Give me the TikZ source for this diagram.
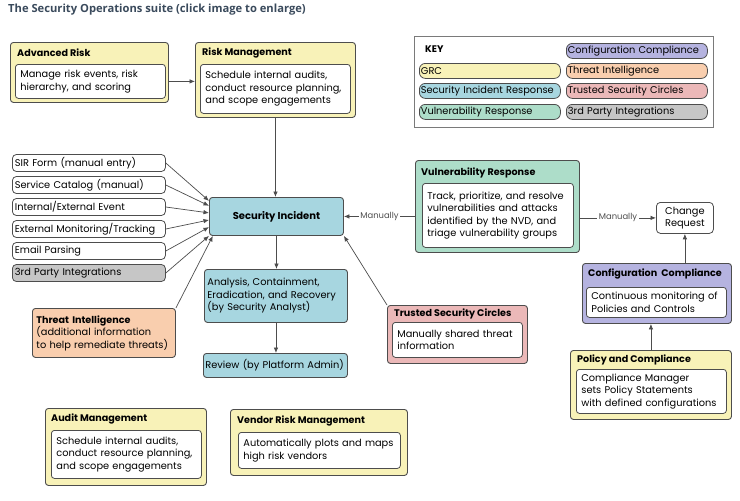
\documentclass[tikz,border=0pt]{standalone}
\usepackage{fontspec}
\setmainfont{Poppins}
\newfontfamily\headfont{Open Sans}
\usepackage{tikz}
\usetikzlibrary{positioning,arrows.meta}
\definecolor{edge}{HTML}{4D4D4D}
\definecolor{titleink}{HTML}{3A4A5C}
\definecolor{keyedge}{HTML}{7A7A7A}
\definecolor{grcbg}{HTML}{F8F2B8}
\definecolor{sirbg}{HTML}{A7D6E0}
\definecolor{vulbg}{HTML}{ADDDC9}
\definecolor{cfgbg}{HTML}{B5B3E0}
\definecolor{thrbg}{HTML}{F9CEAE}
\definecolor{tscbg}{HTML}{EBB8B8}
\definecolor{thirdbg}{HTML}{C6C6C6}
\tikzset{
  panel/.style={rectangle,rounded corners=3pt,draw=edge,line width=0.9pt,
    anchor=north west,inner sep=0pt},
  grc/.style={panel,fill=grcbg},
  sir/.style={panel,fill=sirbg},
  vul/.style={panel,fill=vulbg},
  cfg/.style={panel,fill=cfgbg},
  thr/.style={panel,fill=thrbg},
  tsc/.style={panel,fill=tscbg},
  hd/.style={anchor=west,inner sep=0pt,font=\bfseries\fontsize{9.6}{11}\selectfont},
  body/.style={rectangle,rounded corners=3pt,draw=edge,line width=0.8pt,fill=white,
    anchor=north west,align=left,inner xsep=5pt,inner ysep=0pt},
  src/.style={rectangle,rounded corners=4pt,draw=edge,line width=0.8pt,fill=white,
    anchor=west,minimum height=17pt,text width=148pt,inner xsep=2.5pt,inner ysep=0pt},
  keyitem/.style={rectangle,rounded corners=6pt,draw=edge,line width=0.8pt,
    anchor=north west,minimum height=15pt,text width=138pt,inner xsep=1.5pt,inner ysep=0pt},
  ar/.style={-{Latex[length=5.5pt,width=4.5pt]},draw=edge,line width=0.7pt},
  manual/.style={fill=white,text=edge,font=\fontsize{8.4}{9}\selectfont,inner sep=1.5pt},
}
\begin{document}
\begin{tikzpicture}[x=1pt,y=-1pt,font=\fontsize{9.8}{12.5}\selectfont]
  \useasboundingbox (0,0) rectangle (740,501);
  \fill[white] (0,0) rectangle (740,501);
  \node[anchor=west,inner sep=0pt,text=titleink,
    font=\headfont\bfseries\fontsize{11.2}{13}\selectfont] (title) at (8,10)
    {The Security Operations suite (click image to enlarge)};
  % key
  \node[panel,draw=keyedge,fill=white,rounded corners=0pt,
    minimum width=299pt,minimum height=91pt] (key) at (414,36) {};
  \node[hd] (keyhd) at (425,49) {KEY};
  \node[keyitem,fill=cfgbg] (kcfg) at (566,43) {Configuration Compliance};
  \node[keyitem,fill=grcbg] (kgrc) at (419,63) {GRC};
  \node[keyitem,fill=thrbg] (kthr) at (566,63) {Threat Intelligence};
  \node[keyitem,fill=sirbg] (ksir) at (419,83) {Security Incident Response};
  \node[keyitem,fill=tscbg] (ktsc) at (566,83) {Trusted Security Circles};
  \node[keyitem,fill=vulbg] (kvul) at (419,104) {Vulnerability Response};
  \node[keyitem,fill=thirdbg] (kthird) at (566,104) {3rd Party Integrations};
  % risk
  \node[grc,minimum width=158pt,minimum height=60pt] (advrisk) at (10,42) {};
  \node[hd] (advriskhd) at (17,53) {Advanced Risk};
  \node[body,text width=140pt,minimum height=34pt] (advriskbody) at (15,64)
    {Manage risk events, risk\\hierarchy, and scoring};
  \node[grc,minimum width=160pt,minimum height=75pt] (riskmgmt) at (195,42) {};
  \node[hd] (riskmgmthd) at (202,53) {Risk Management};
  \node[body,text width=140pt,minimum height=49pt] (riskmgmtbody) at (200,64)
    {Schedule internal audits,\\conduct resource planning,\\and scope engagements};
  \draw[ar] (advrisk.east |- advriskbody.east) -- (riskmgmt.west |- advriskbody.east);
  % security incident
  \node[sir,minimum width=134pt,minimum height=38pt,font=\bfseries\fontsize{10}{11}\selectfont]
    (si) at (209,197) {Security Incident};
  \node[sir,minimum height=53pt,text width=137pt,inner xsep=3pt,align=left] (analysis)
    at (204,269) {Analysis, Containment,\\Eradication, and Recovery\\(by Security Analyst)};
  \node[sir,minimum height=24pt,text width=140pt,inner xsep=2pt,align=left] (review)
    at (203,353) {Review (by Platform Admin)};
  \draw[ar] (riskmgmt.south) -- (riskmgmt.south |- si.north);
  \draw[ar] (si.south) -- (si.south |- analysis.north);
  \draw[ar] (analysis.south) -- (analysis.south |- review.north);
  % sources
  \node[src] (sirform) at (12,163) {SIR Form (manual entry)};
  \node[src] (catalog) at (12,185) {Service Catalog (manual)};
  \node[src] (event) at (12,207) {Internal/External Event};
  \node[src] (monitor) at (12,229) {External Monitoring/Tracking};
  \node[src] (email) at (12,251) {Email Parsing};
  \node[src,fill=thirdbg] (third) at (12,273) {3rd Party Integrations};
  \draw[ar] (sirform.east) -- (si.167);
  \draw[ar] (catalog.east) -- (si.171);
  \draw[ar] (event.east) -- (si.177);
  \draw[ar] (monitor.east) -- (si.183);
  \draw[ar] (email.east) -- (si.189);
  \draw[ar] (third.east) -- (si.south west);
  % threat intelligence
  \node[thr,minimum height=49pt,text width=135pt,inner xsep=4pt,align=left] (ti)
    at (32,308) {{\bfseries\fontsize{9.6}{12.5}\selectfont Threat Intelligence}\\(additional information\\to help remediate threats)};
  \draw[ar] (ti.north east) -- (si.197);
  % trusted security circles
  \node[tsc,minimum width=140pt,minimum height=58pt] (tsc) at (387,305) {};
  \node[hd] (tschd) at (394,314) {Trusted Security Circles};
  \node[body,text width=120pt,minimum height=35pt] (tscbody) at (392,322)
    {Manually shared threat\\information};
  \draw[ar] (tsc.north west) -- (si.south east);
  % vulnerability response
  \node[vul,minimum width=164pt,minimum height=92pt] (vr) at (415,160) {};
  \node[hd] (vrhd) at (421,173) {Vulnerability Response};
  \node[body,text width=141pt,minimum height=64pt] (vrbody) at (422,183)
    {Track, prioritize, and resolve\\vulnerabilities and attacks\\identified by the NVD, and\\triage vulnerability groups};
  \node[rectangle,rounded corners=4pt,draw=edge,line width=0.8pt,fill=white,anchor=north west,
    minimum width=57pt,minimum height=31pt,align=center,inner sep=0pt] (change)
    at (656,202) {Change\\Request};
  \draw[ar] (vr.west |- si.east) -- node[manual] {Manually} (si.east);
  \draw[ar] (vr.east |- change.west) -- node[manual] {Manually} (change.west);
  % configuration compliance
  \node[cfg,minimum width=149pt,minimum height=60pt] (cc) at (582,263) {};
  \node[hd] (cchd) at (588,274) {Configuration\ \ Compliance};
  \node[body,text width=130pt,minimum height=30pt] (ccbody) at (586,287)
    {Continuous monitoring of\\Policies and Controls};
  \draw[ar] (change.south |- cc.north) -- (change.south);
  \node[grc,minimum width=161pt,minimum height=69pt] (pc) at (570,350) {};
  \node[hd] (pchd) at (577,360) {Policy and Compliance};
  \node[body,text width=140pt,minimum height=44pt] (pcbody) at (576,369)
    {Compliance Manager\\sets Policy Statements\\with defined configurations};
  \draw[ar] (pc.north) -- (pc.north |- cc.south);
  % audit and vendor
  \node[grc,minimum width=161pt,minimum height=77pt] (audit) at (45,408) {};
  \node[hd] (audithd) at (51,419) {Audit Management};
  \node[body,text width=140pt,minimum height=48pt] (auditbody) at (51,430)
    {Schedule internal audits,\\conduct resource planning,\\and scope engagements};
  \node[grc,minimum width=177pt,minimum height=66pt] (vendor) at (230,409) {};
  \node[hd] (vendorhd) at (237,421) {Vendor Risk Management};
  \node[body,text width=152pt,minimum height=36pt] (vendorbody) at (238,432)
    {Automatically plots and maps\\high risk vendors};
\end{tikzpicture}
\end{document}
